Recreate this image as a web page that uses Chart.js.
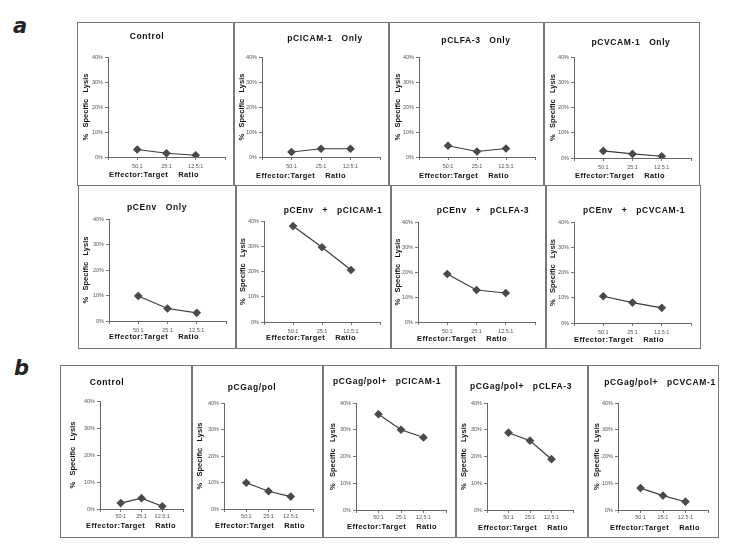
<!DOCTYPE html>
<html>
<head>
<meta charset="utf-8">
<script src="https://cdn.jsdelivr.net/npm/chart.js@4.4.0/dist/chart.umd.min.js"></script>
<style>
  body { margin: 0; background: #fff; width: 744px; height: 556px; position: relative; overflow: hidden; }
  .cell { position: absolute; box-sizing: border-box; border: 1px solid #777; }
  canvas { position: absolute; }
  .tag { position: absolute; font: italic bold 21px "DejaVu Sans", sans-serif; color: #222; line-height: 1; }
</style>
</head>
<body>
<div class="tag" style="left:13px;top:16px">a</div>
<div class="tag" style="left:14px;top:358px">b</div>
<script>
const ratios = ['50:1', '25:1', '12.5:1']
const lysisTicks = [0, 10, 20, 30, 40]

// panel a, % specific lysis
const aControl = [3.0, 1.5, 0.7]
const aICAM = [2.0, 3.3, 3.3]
const aLFA = [4.5, 2.2, 3.4]
const aVCAM = [2.8, 1.6, 0.7]
const aEnv = [9.8, 4.9, 3.2]
const aEnvICAM = [38.0, 29.6, 20.6]
const aEnvLFA = [19.2, 12.8, 11.6]
const aEnvVCAM = [10.6, 8.1, 6.0]

// panel b
const bControl = [2.2, 4.0, 1.0]
const bGagPol = [9.9, 6.7, 4.7]
const bGagICAM = [35.8, 30.0, 27.1]
const bGagLFA = [28.9, 25.9, 19.0]
const bGagVCAM = [8.2, 5.4, 3.1]

// cell box, plot edges (l/r/t/b) and text spots, all in px relative to the cell
const cells = [
  { x: 77, y: 22, w: 157, h: 164, l: 31, r: 9, t: 35, b: 135, hx: 70, hy: 15, xx: 77, xy: 153, yx: 9, title: 'Control', data: aControl },
  { x: 234, y: 22, w: 155, h: 164, l: 28, r: 9, t: 35, b: 135, hx: 91, hy: 17, xx: 67, xy: 154, yx: 8, title: 'pCICAM-1   Only', data: aICAM },
  { x: 389, y: 22, w: 155, h: 164, l: 30, r: 9, t: 35, b: 135, hx: 87, hy: 19, xx: 75, xy: 154, yx: 9, title: 'pCLFA-3   Only', data: aLFA },
  { x: 544, y: 22, w: 156, h: 164, l: 30, r: 9, t: 35, b: 136, hx: 87, hy: 21, xx: 76, xy: 154, yx: 9, title: 'pCVCAM-1   Only', data: aVCAM },

  { x: 78, y: 185, w: 158, h: 164, l: 31, r: 10, t: 34, b: 136, hx: 79, hy: 23, xx: 76, xy: 152, yx: 8, title: 'pCEnv   Only', data: aEnv },
  { x: 236, y: 185, w: 155, h: 164, l: 28, r: 11, t: 36, b: 137, hx: 97, hy: 26, xx: 75, xy: 153, yx: 7, title: 'pCEnv   +   pCICAM-1', data: aEnvICAM },
  { x: 391, y: 185, w: 155, h: 164, l: 27, r: 11, t: 37, b: 137, hx: 92, hy: 26, xx: 71, xy: 154, yx: 7, title: 'pCEnv   +   pCLFA-3', data: aEnvLFA },
  { x: 546, y: 185, w: 155, h: 164, l: 28, r: 10, t: 37, b: 138, hx: 88, hy: 26, xx: 73, xy: 155, yx: 7, title: 'pCEnv   +   pCVCAM-1', data: aEnvVCAM },

  { x: 60, y: 365, w: 132, h: 173, l: 40, r: 9, t: 36, b: 144, hx: 47, hy: 18, xx: 71, xy: 161, yx: 13, title: 'Control', data: bControl },
  { x: 192, y: 365, w: 131, h: 173, l: 32, r: 10, t: 38, b: 144, hx: 60, hy: 23, xx: 68, xy: 161, yx: 8, title: 'pCGag/pol', data: bGagPol },
  { x: 323, y: 365, w: 133, h: 173, l: 33, r: 10, t: 38, b: 145, hx: 64, hy: 17, xx: 69, xy: 162, yx: 10, title: 'pCGag/pol+   pCICAM-1', data: bGagICAM },
  { x: 456, y: 365, w: 132, h: 173, l: 31, r: 15, t: 38, b: 145, hx: 65, hy: 22, xx: 67, xy: 163, yx: 8, title: 'pCGag/pol+   pCLFA-3', data: bGagLFA },
  { x: 588, y: 365, w: 131, h: 173, l: 30, r: 11, t: 38, b: 145, hx: 72, hy: 18, xx: 67, xy: 163, yx: 9, title: 'pCGag/pol+   pCVCAM-1', data: bGagVCAM }
]

const FONT = '"Liberation Sans", Arial, sans-serif'

// header and x axis caption sit off-centre in the original, so draw them at fixed spots
const panelText = {
  id: 'panelText',
  afterDraw(chart, args, o) {
    const ctx = chart.ctx
    ctx.save()
    ctx.fillStyle = '#111'
    ctx.textAlign = 'center'
    ctx.textBaseline = 'middle'
    ctx.letterSpacing = '0.6px'
    ctx.font = 'bold 8.5px ' + FONT
    ctx.fillText(o.title, o.hx, o.hy)
    ctx.letterSpacing = '0.4px'
    ctx.font = 'bold 7.5px ' + FONT
    ctx.fillText('Effector:Target    Ratio', o.xx, o.xy)
    ctx.restore()
  }
}

cells.forEach(c => {
  const box = document.createElement('div')
  box.className = 'cell'
  box.style.cssText = `left:${c.x}px;top:${c.y}px;width:${c.w}px;height:${c.h}px`
  document.body.appendChild(box)

  const canvas = document.createElement('canvas')
  canvas.width = c.w
  canvas.height = c.h
  canvas.style.cssText = `left:${c.x}px;top:${c.y}px;width:${c.w}px;height:${c.h}px`
  document.body.appendChild(canvas)

  new Chart(canvas, {
    type: 'line',
    data: {
      labels: ['', ...ratios, ''],
      datasets: [{
        data: [null, ...c.data, null],
        borderColor: '#3c3c3c',
        borderWidth: 1.2,
        pointStyle: 'rectRot',
        pointRadius: 3.5,
        pointBackgroundColor: '#4a4a4a',
        pointBorderColor: '#4a4a4a',
        tension: 0
      }]
    },
    options: {
      responsive: false,
      animation: false,
      devicePixelRatio: 1,
      layout: { padding: { left: 0, right: c.r, top: c.t, bottom: 0 } },
      plugins: {
        legend: { display: false },
        tooltip: { enabled: false },
        panelText: { title: c.title, hx: c.hx, hy: c.hy, xx: c.xx, xy: c.xy }
      },
      scales: {
        x: {
          offset: false,
          afterFit: s => { s.height = c.h - c.b },
          grid: { drawOnChartArea: false, drawTicks: true, tickLength: 3, color: '#777' },
          border: { color: '#666', width: 1 },
          ticks: {
            autoSkip: false, maxRotation: 0, padding: c.y > 300 ? 1 : 3,
            color: '#555', font: { family: FONT, size: 5.5 }
          }
        },
        y: {
          min: lysisTicks[0],
          max: lysisTicks[lysisTicks.length - 1],
          afterFit: s => { s.width = c.l },
          grid: { drawOnChartArea: false, drawTicks: true, tickLength: 3, color: '#777' },
          border: { color: '#666', width: 1 },
          ticks: {
            stepSize: lysisTicks[1] - lysisTicks[0],
            padding: 2,
            color: '#555',
            font: { family: FONT, size: 5.5 },
            callback: v => v + '%'
          },
          title: {
            display: true,
            text: '%   Specific   Lysis',
            color: '#111',
            font: { family: FONT, size: 7.5, weight: 'bold', lineHeight: 1.2 },
            padding: { top: c.yx - 4.5, bottom: 0 }
          }
        }
      }
    },
    plugins: [panelText]
  })
})
</script>
</body>
</html>
